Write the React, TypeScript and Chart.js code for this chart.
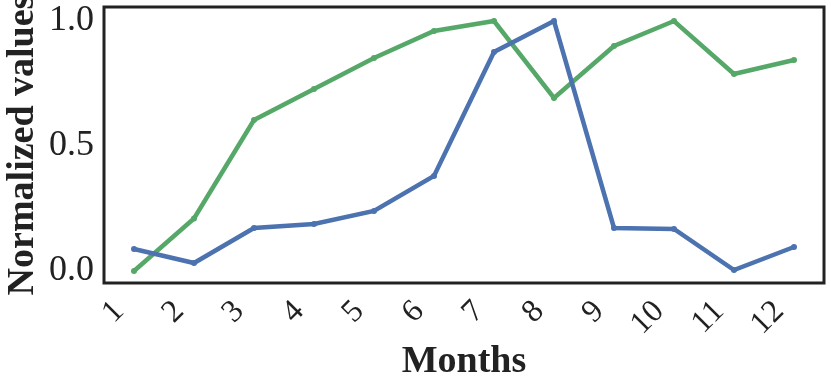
import React, { useEffect, useRef } from "react";
import { Chart, registerables } from "chart.js";

Chart.register(...registerables);

const months = ["1", "2", "3", "4", "5", "6", "7", "8", "9", "10", "11", "12"];
const blueSeries = [0.088, 0.032, 0.172, 0.188, 0.24, 0.38, 0.876, 1.0, 0.172, 0.168, 0.004, 0.096];
const greenSeries = [0.0, 0.21, 0.604, 0.728, 0.852, 0.96, 1.0, 0.692, 0.9, 1.0, 0.788, 0.844];
const yTicks = [0, 0.5, 1.0];

const FONT = "'Liberation Serif', 'Times New Roman', serif";
const INK = "#222222";

const framePlugin = {
  id: "frame",
  afterDraw(chart: any) {
    const { ctx, chartArea } = chart;
    ctx.save();
    ctx.strokeStyle = INK;
    ctx.lineWidth = 3;
    ctx.strokeRect(chartArea.left, chartArea.top, chartArea.right - chartArea.left, chartArea.bottom - chartArea.top);
    ctx.restore();
  },
};

export default function App() {
  const ref = useRef<HTMLCanvasElement | null>(null);
  useEffect(() => {
    document.body.style.margin = "0";
    const chart = new Chart(ref.current as HTMLCanvasElement, {
      type: "line",
      data: {
        labels: months,
        datasets: [
          {
            data: blueSeries,
            borderColor: "#4C72B0",
            backgroundColor: "#4C72B0",
            borderWidth: 4.5,
            pointRadius: 3,
            pointBorderWidth: 0,
            tension: 0,
          },
          {
            data: greenSeries,
            borderColor: "#55A868",
            backgroundColor: "#55A868",
            borderWidth: 4.5,
            pointRadius: 3,
            pointBorderWidth: 0,
            tension: 0,
          },
        ],
      },
      options: {
        animation: false,
        responsive: false,
        layout: { padding: { top: 7, right: 7, left: 0, bottom: 0 } },
        plugins: { legend: { display: false }, tooltip: { enabled: false } },
        scales: {
          x: {
            offset: true,
            grid: { display: false, drawTicks: false },
            border: { display: false },
            ticks: {
              color: INK,
              font: { family: FONT, size: 32 },
              maxRotation: 45,
              minRotation: 45,
              padding: 10,
              labelOffset: -15,
              autoSkip: false,
            },
            title: {
              display: true,
              text: "Months",
              color: INK,
              font: { family: FONT, size: 38, weight: "bold" },
              padding: { top: 0, bottom: 6 },
            },
            afterFit(scale: any) {
              scale.height = 108;
              scale.paddingLeft = 0;
              scale.paddingRight = 0;
            },
          },
          y: {
            min: -0.048,
            max: 1.056,
            grid: { display: false, drawTicks: false },
            border: { display: false },
            afterBuildTicks(scale: any) {
              scale.ticks = yTicks.map((v) => ({ value: v }));
            },
            ticks: {
              color: INK,
              font: { family: FONT, size: 36 },
              padding: 10,
              callback: (v: any) => Number(v).toFixed(1),
            },
            title: {
              display: true,
              text: "Normalized values",
              color: INK,
              font: { family: FONT, size: 38, weight: "bold" },
              padding: { top: 0, bottom: 0 },
            },
            afterFit(scale: any) {
              scale.width = 104;
              scale.paddingTop = 0;
              scale.paddingBottom = 0;
            },
          },
        },
      },
      plugins: [framePlugin],
    } as any);
    return () => chart.destroy();
  }, []);
  return <canvas ref={ref} width={831} height={391} style={{ display: "block" }} />;
}
